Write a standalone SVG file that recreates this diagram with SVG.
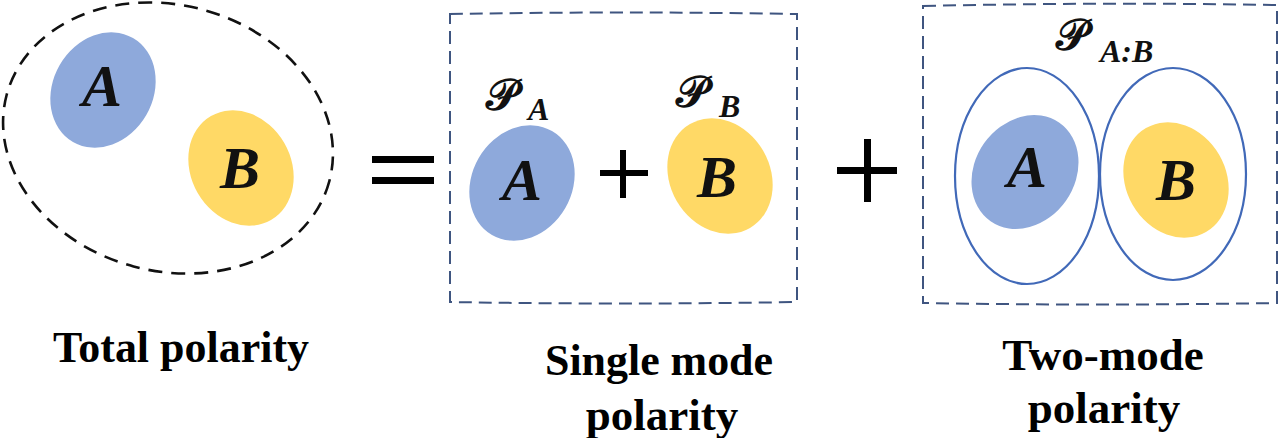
<svg xmlns="http://www.w3.org/2000/svg" width="1280" height="438" viewBox="0 0 1280 438">
<style>
.bg{fill:#ffffff}
.blue{fill:#8EA9DB}
.yel{fill:#FFD966}
.ring{fill:none;stroke:#4169B8;stroke-width:2.2}
.box{fill:none;stroke:#3F5580;stroke-width:2;stroke-dasharray:13 7}
.tot{fill:none;stroke:#111;stroke-width:2.6;stroke-dasharray:14 9}
.let{font-family:"Liberation Serif",serif;font-weight:bold;font-style:italic;font-size:60px;fill:#111;text-anchor:middle}
.scr{font-family:"DejaVu Serif","Noto Sans","DejaVu Sans",serif;font-weight:bold;font-size:44px;fill:#111}
.sub{font-family:"Liberation Serif",serif;font-weight:bold;font-style:italic;font-size:32px;fill:#111}
.lab{font-family:"Liberation Serif",serif;font-weight:bold;font-size:45px;fill:#000;text-anchor:middle}
.op{fill:#000}
</style>
<rect class="bg" x="0" y="0" width="1280" height="438"/>
<g id="total">
<ellipse class="tot" cx="168" cy="138" rx="167" ry="133" transform="rotate(15 168 138)"/>
<ellipse class="blue" cx="103" cy="90" rx="50" ry="60" transform="rotate(30 103 90)"/>
<text class="let" x="102" y="106">A</text>
<ellipse class="yel" cx="241" cy="168" rx="50" ry="60" transform="rotate(-30 241 168)"/>
<text class="let" x="240" y="188">B</text>
<text class="lab" x="181" y="362" textLength="256" lengthAdjust="spacingAndGlyphs">Total polarity</text>
</g>
<g id="equals">
<rect class="op" x="372" y="156" width="62" height="7"/>
<rect class="op" x="372" y="177" width="62" height="7"/>
</g>
<g id="single">
<path class="box" d="M450 14 Q620 11 797 14 L797 302 Q620 305 450 302 Z"/>
<text class="scr" x="486" y="110">𝒫</text>
<text class="sub" x="528" y="120">A</text>
<ellipse class="blue" cx="522" cy="183" rx="50" ry="60" transform="rotate(30 522 183)"/>
<text class="let" x="522" y="200">A</text>
<rect class="op" x="600" y="170" width="48" height="6"/>
<rect class="op" x="620" y="150" width="6" height="48"/>
<text class="scr" x="676" y="107">𝒫</text>
<text class="sub" x="719" y="117">B</text>
<ellipse class="yel" cx="720" cy="176" rx="50" ry="60" transform="rotate(-30 720 176)"/>
<text class="let" x="717" y="197">B</text>
<text class="lab" x="659" y="375" textLength="228" lengthAdjust="spacingAndGlyphs">Single mode</text>
<text class="lab" x="662" y="430">polarity</text>
</g>
<g id="plus">
<rect class="op" x="837" y="167" width="60" height="7"/>
<rect class="op" x="864" y="139" width="7" height="63"/>
</g>
<g id="two">
<path class="box" d="M923 6 Q1100 2 1277 5 L1277 303 Q1100 306 923 303 Z"/>
<text class="scr" x="1056" y="50">𝒫</text>
<text class="sub" x="1100" y="62">A:B</text>
<ellipse class="ring" cx="1027" cy="176" rx="72" ry="108"/>
<ellipse class="ring" cx="1173" cy="174" rx="73" ry="106"/>
<ellipse class="blue" cx="1025" cy="172" rx="50" ry="60" transform="rotate(35 1025 172)"/>
<text class="let" x="1027" y="187">A</text>
<ellipse class="yel" cx="1176" cy="180" rx="50" ry="60" transform="rotate(-30 1176 180)"/>
<text class="let" x="1176" y="200">B</text>
<text class="lab" x="1103" y="370">Two-mode</text>
<text class="lab" x="1104" y="423">polarity</text>
</g>
</svg>
